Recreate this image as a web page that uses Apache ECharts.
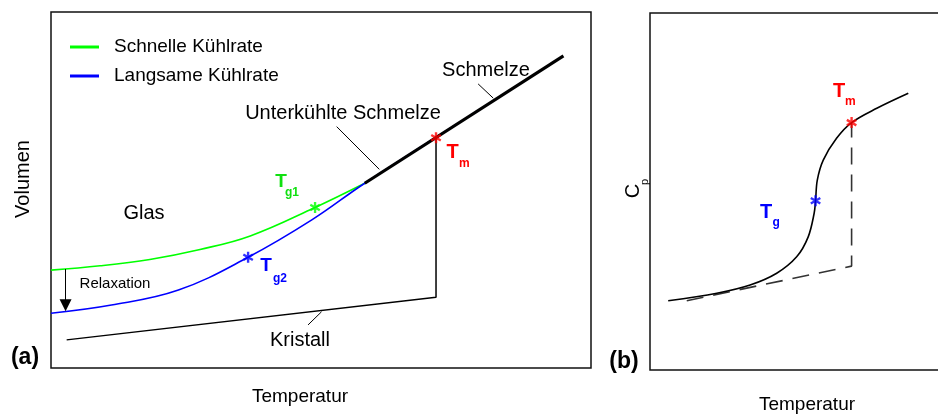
<!DOCTYPE html>
<html>
<head>
<meta charset="utf-8">
<script src="https://cdn.jsdelivr.net/npm/echarts@6/dist/echarts.min.js"></script>
<style>
  html, body { margin: 0; padding: 0; background: #fff; }
  #chart { width: 938px; height: 416px; }
</style>
</head>
<body>
<div id="chart"></div>
<script>
// ---- Panel (a): specific volume vs. temperature (arbitrary units, 0–100) ----
const fastCoolX = [0, 9.1, 18.3, 27.6, 36.9, 48.9, 58.1];
const fastCoolY = [27.5, 28.7, 30.5, 33.3, 37.1, 45.1, 51.9];
const slowCoolX = [0, 11.2, 23.6, 36.5, 48.3, 58.1, 79.1];
const slowCoolY = [15.4, 17.7, 21.9, 31.1, 41.6, 51.9, 72.3];
const meltX = [58.1, 94.9];
const meltY = [51.9, 87.7];
const crystalX = [2.9, 71.3, 71.3];
const crystalY = [7.9, 19.9, 64.7];
const tg1Point = [48.9, 45.1];
const tg2Point = [36.5, 31.1];
const tmPointA = [71.3, 64.7];
// relaxation arrow: from the fast-cooled glass down towards the slow-cooled one
// (the arrow head is centred on the end point)
const relaxX = [2.7, 2.7];
const relaxY = [27.8, 17.6];
// leader lines for the region names
const leaderSupercooled = [[52.9, 67.8], [60.8, 55.8]];
const leaderMelt = [[79.1, 79.8], [81.9, 75.8]];
const leaderCrystal = [[50.1, 15.8], [47.6, 12.1]];

// ---- Panel (b): heat capacity vs. temperature ----
const cpX = [5.2, 19.1, 28.6, 36.2, 41.9, 45.2, 46.9, 47.3, 47.8, 49.5, 53.3, 57.6, 64.8, 73.8];
const cpY = [19.4, 21.5, 23.8, 27.1, 31.7, 37.3, 43.9, 47.4, 53.2, 58.8, 64.9, 69.3, 73.3, 77.5];
const cpCrystalX = [10.5, 57.6, 57.6];
const cpCrystalY = [19.4, 29.1, 69.3];
const tgPointB = [47.3, 47.4];
const tmPointB = [57.6, 69.3];

const seriesNames = ['Schnelle Kühlrate', 'Langsame Kühlrate'];

const FONT = '"Liberation Sans", Arial, Helvetica, sans-serif';
const GREEN = '#00ff00';
const GREEN_TEXT = '#10e010';
const BLUE = '#0000ff';
const RED = '#ff0000';

const zip = (xs, ys) => xs.map((x, i) => [x, ys[i]]);

// six-armed asterisk built from three overlapping bars
const ASTERISK = 'path://M-1.3,-6L1.3,-6L1.3,6L-1.3,6Z' +
  'M-5.846,-1.874L-4.546,-4.126L5.846,1.874L4.546,4.126Z' +
  'M4.546,-4.126L5.846,-1.874L-4.546,4.126L-5.846,1.874Z';

function txt(text, x, y, o) {
  o = o || {};
  return {
    type: 'text', x: x, y: y, rotation: o.rot || 0, z: 100,
    style: {
      text: text,
      fill: o.color || '#000',
      font: (o.bold ? 'bold ' : '') + (o.size || 19) + 'px ' + FONT,
      textAlign: o.align || 'center',
      textVerticalAlign: 'middle',
      verticalAlign: 'middle'
    }
  };
}

function axisPair(grid) {
  return {
    x: { type: 'value', gridIndex: grid, min: 0, max: 100, show: false },
    y: { type: 'value', gridIndex: grid, min: 0, max: 100, show: false }
  };
}
const axA = axisPair(0), axB = axisPair(1);

const chart = echarts.init(document.getElementById('chart'), null, { renderer: 'canvas' });

chart.setOption({
  animation: false,
  backgroundColor: '#fff',
  grid: [
    { left: 51, top: 12, width: 540, height: 356, outerBoundsMode: 'none', containLabel: false,
      show: true, borderColor: '#111', borderWidth: 1.5, backgroundColor: 'transparent' },
    // the Cp panel runs past the right edge of the canvas
    { left: 650, top: 13, width: 350, height: 357, outerBoundsMode: 'none', containLabel: false,
      show: true, borderColor: '#111', borderWidth: 1.5, backgroundColor: 'transparent' }
  ],
  xAxis: [axA.x, axB.x],
  yAxis: [axA.y, axB.y],
  legend: {
    data: seriesNames,
    orient: 'vertical',
    left: 65,
    top: 32,
    icon: 'rect',
    itemWidth: 29,
    itemHeight: 3,
    itemGap: 9,
    selectedMode: false,
    textStyle: { fontFamily: FONT, fontSize: 19, color: '#000', lineHeight: 20, padding: [0, 0, 0, 10] }
  },
  series: [
    {
      name: seriesNames[0], type: 'line', xAxisIndex: 0, yAxisIndex: 0,
      data: zip(fastCoolX, fastCoolY), smooth: 0.4, showSymbol: false,
      color: GREEN, lineStyle: { color: GREEN, width: 1.6 }, z: 3
    },
    {
      name: seriesNames[1], type: 'line', xAxisIndex: 0, yAxisIndex: 0,
      data: zip(slowCoolX, slowCoolY), smooth: 0.4, showSymbol: false,
      color: BLUE, lineStyle: { color: BLUE, width: 1.6 }, z: 3
    },
    {
      name: 'Schmelze', type: 'line', xAxisIndex: 0, yAxisIndex: 0,
      data: zip(meltX, meltY), showSymbol: false,
      lineStyle: { color: '#000', width: 3.2 }, z: 4
    },
    {
      name: 'Kristall', type: 'line', xAxisIndex: 0, yAxisIndex: 0,
      data: zip(crystalX, crystalY), showSymbol: false,
      lineStyle: { color: '#000', width: 1.5 }, z: 2
    },
    {
      name: 'Hinweislinien', type: 'lines', coordinateSystem: 'cartesian2d', xAxisIndex: 0, yAxisIndex: 0,
      data: [leaderSupercooled, leaderMelt, leaderCrystal].map(c => ({ coords: c })),
      lineStyle: { color: '#000', width: 1, opacity: 1 }, z: 5
    },
    {
      name: 'Relaxation', type: 'lines', coordinateSystem: 'cartesian2d', xAxisIndex: 0, yAxisIndex: 0,
      data: [{ coords: zip(relaxX, relaxY) }],
      symbol: ['none', 'triangle'], symbolSize: [9, 12],
      lineStyle: { color: '#000', width: 1, opacity: 1 }, z: 5
    },
    {
      name: 'Tg/Tm (a)', type: 'scatter', xAxisIndex: 0, yAxisIndex: 0,
      symbol: ASTERISK, symbolSize: 11, symbolKeepAspect: true,
      data: [
        { value: tg1Point, itemStyle: { color: GREEN } },
        { value: tg2Point, itemStyle: { color: BLUE } },
        { value: tmPointA, itemStyle: { color: RED } }
      ],
      z: 6
    },
    {
      name: 'Cp', type: 'line', xAxisIndex: 1, yAxisIndex: 1,
      data: zip(cpX, cpY), smooth: 0.35, showSymbol: false,
      lineStyle: { color: '#000', width: 1.6 }, z: 3
    },
    {
      name: 'Cp Kristall', type: 'line', xAxisIndex: 1, yAxisIndex: 1,
      data: zip(cpCrystalX, cpCrystalY), showSymbol: false,
      lineStyle: { color: '#333', width: 1.6, type: [17, 10] }, z: 2
    },
    {
      name: 'Tg/Tm (b)', type: 'scatter', xAxisIndex: 1, yAxisIndex: 1,
      symbol: ASTERISK, symbolSize: 11, symbolKeepAspect: true,
      data: [
        { value: tgPointB, itemStyle: { color: BLUE } },
        { value: tmPointB, itemStyle: { color: RED } }
      ],
      z: 6
    }
  ],
  graphic: [
    // panel (a)
    txt('Volumen', 23, 179, { rot: Math.PI / 2, size: 20 }),
    txt('Temperatur', 300, 397, { size: 19 }),
    txt('(a)', 25, 358, { bold: true, size: 23 }),
    txt('Glas', 144, 213, { size: 20 }),
    txt('Relaxation', 115, 284, { size: 15 }),
    txt('Kristall', 300, 340, { size: 20 }),
    txt('Unterkühlte Schmelze', 343, 113, { size: 20 }),
    txt('Schmelze', 486, 70, { size: 20 }),
    txt('T', 281, 182, { bold: true, size: 19, color: GREEN_TEXT }),
    txt('g1', 285, 193, { bold: true, size: 12, color: GREEN_TEXT, align: 'left' }),
    txt('T', 266, 266, { bold: true, size: 19, color: BLUE }),
    txt('g2', 273, 279, { bold: true, size: 12, color: BLUE, align: 'left' }),
    txt('T', 452.5, 152.5, { bold: true, size: 20, color: RED }),
    txt('m', 459, 164, { bold: true, size: 12, color: RED, align: 'left' }),
    // panel (b)
    txt('C', 633, 191, { rot: Math.PI / 2, size: 20 }),
    txt('p', 645, 182, { rot: Math.PI / 2, size: 11 }),
    txt('Temperatur', 807, 405, { size: 19 }),
    txt('(b)', 624, 362, { bold: true, size: 23 }),
    txt('T', 839, 91, { bold: true, size: 20, color: RED }),
    txt('m', 845, 102, { bold: true, size: 12, color: RED, align: 'left' }),
    txt('T', 766, 212, { bold: true, size: 20, color: BLUE }),
    txt('g', 772.5, 223, { bold: true, size: 12, color: BLUE, align: 'left' })
  ]
});
</script>
</body>
</html>
